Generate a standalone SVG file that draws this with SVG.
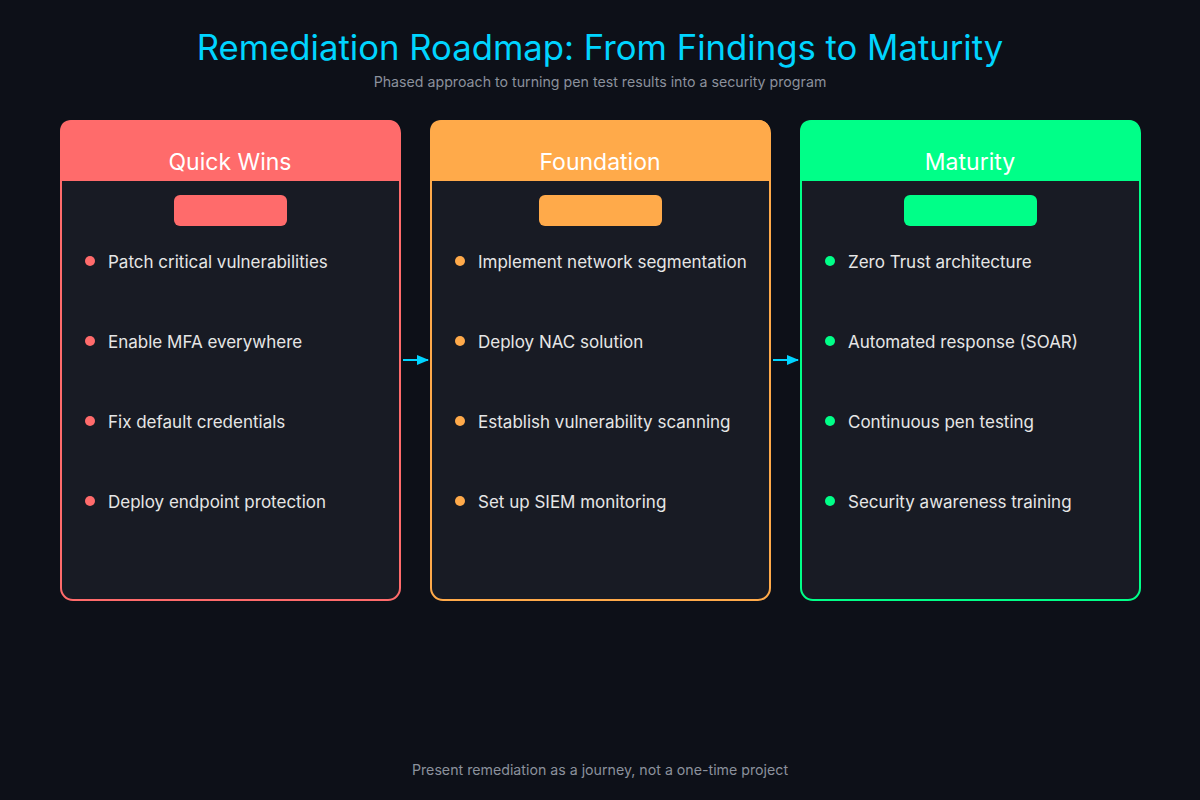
<svg xmlns="http://www.w3.org/2000/svg" width="1200" height="800" viewBox="0 0 1200 800">
<defs>
<style>
.card{fill:#181b24;stroke-width:2}
.hdr{fill:#ffffff;font-family:Inter,"Liberation Sans",Arial,sans-serif;font-size:23px;text-anchor:middle}
.item{fill:#e6e6e6;font-family:Inter,"Liberation Sans",Arial,sans-serif;font-size:17px}
.conn{stroke:#00d4ff;stroke-width:2;fill:none}
</style>
<marker id="ah" markerWidth="12" markerHeight="10" refX="11" refY="5" orient="auto" markerUnits="userSpaceOnUse">
<path d="M0,0 L12,5 L0,10 Z" fill="#00d4ff"/>
</marker>
</defs>
<rect width="1200" height="800" fill="#0d1018"/>
<text x="600" y="60" text-anchor="middle" font-family="Inter,'Liberation Sans',Arial,sans-serif" font-size="34.7" fill="#00d4ff">Remediation Roadmap: From Findings to Maturity</text>
<text x="600" y="87" text-anchor="middle" font-family="Inter,'Liberation Sans',Arial,sans-serif" font-size="14.2" fill="#8b919c">Phased approach to turning pen test results into a security program</text>

<g id="quick-wins">
<rect class="card" x="61" y="121" width="339" height="479" rx="12" stroke="#ff6b6b"/>
<path d="M60,181 V132 Q60,120 72,120 H388 Q400,120 400,132 V181 Z" fill="#ff6b6b"/>
<text class="hdr" x="230" y="170">Quick Wins</text>
<rect x="174" y="195" width="113" height="31" rx="6" fill="#ff6b6b"/>
<g fill="#ff6b6b"><circle cx="90" cy="261" r="5"/><circle cx="90" cy="341" r="5"/><circle cx="90" cy="421" r="5"/><circle cx="90" cy="501" r="5"/></g>
<text class="item" x="108" y="268">Patch critical vulnerabilities</text>
<text class="item" x="108" y="348">Enable MFA everywhere</text>
<text class="item" x="108" y="428">Fix default credentials</text>
<text class="item" x="108" y="508">Deploy endpoint protection</text>
</g>

<g id="foundation">
<rect class="card" x="431" y="121" width="339" height="479" rx="12" stroke="#ffaa4a"/>
<path d="M430,181 V132 Q430,120 442,120 H758 Q770,120 770,132 V181 Z" fill="#ffaa4a"/>
<text class="hdr" x="600" y="170">Foundation</text>
<rect x="539" y="195" width="123" height="31" rx="6" fill="#ffaa4a"/>
<g fill="#ffaa4a"><circle cx="460" cy="261" r="5"/><circle cx="460" cy="341" r="5"/><circle cx="460" cy="421" r="5"/><circle cx="460" cy="501" r="5"/></g>
<text class="item" x="478" y="268">Implement network segmentation</text>
<text class="item" x="478" y="348">Deploy NAC solution</text>
<text class="item" x="478" y="428">Establish vulnerability scanning</text>
<text class="item" x="478" y="508">Set up SIEM monitoring</text>
</g>

<g id="maturity">
<rect class="card" x="801" y="121" width="339" height="479" rx="12" stroke="#00ff88"/>
<path d="M800,181 V132 Q800,120 812,120 H1128 Q1140,120 1140,132 V181 Z" fill="#00ff88"/>
<text class="hdr" x="970" y="170">Maturity</text>
<rect x="904" y="195" width="133" height="31" rx="6" fill="#00ff88"/>
<g fill="#00ff88"><circle cx="830" cy="261" r="5"/><circle cx="830" cy="341" r="5"/><circle cx="830" cy="421" r="5"/><circle cx="830" cy="501" r="5"/></g>
<text class="item" x="848" y="268">Zero Trust architecture</text>
<text class="item" x="848" y="348">Automated response (SOAR)</text>
<text class="item" x="848" y="428">Continuous pen testing</text>
<text class="item" x="848" y="508">Security awareness training</text>
</g>

<g id="connectors">
<line class="conn" x1="403" y1="360" x2="428" y2="360" marker-end="url(#ah)"/>
<line class="conn" x1="773" y1="360" x2="798" y2="360" marker-end="url(#ah)"/>
</g>

<text x="600" y="775" text-anchor="middle" font-family="Inter,'Liberation Sans',Arial,sans-serif" font-size="14.2" fill="#8b919c">Present remediation as a journey, not a one-time project</text>
</svg>
